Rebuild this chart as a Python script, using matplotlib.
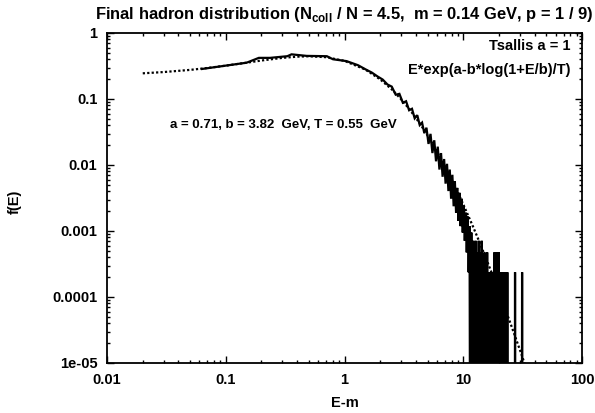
import numpy as np
import matplotlib
matplotlib.use("Agg")
from matplotlib import pyplot as plt
from matplotlib.ticker import FixedLocator, FixedFormatter, LogLocator, NullFormatter

plt.rcParams['font.family'] = ['Liberation Sans', 'DejaVu Sans']
plt.rcParams['font.weight'] = 'bold'
plt.rcParams['mathtext.fontset'] = 'custom'
plt.rcParams['mathtext.rm'] = 'Liberation Sans:bold'
plt.rcParams['mathtext.bf'] = 'Liberation Sans:bold'

# smooth low-energy part of the simulated histogram
low_x = [0.063, 0.15, 0.19, 0.236, 0.33, 0.358, 0.48, 0.71, 0.80, 1.04, 1.3]
low_y = [0.285, 0.355, 0.42, 0.42, 0.445, 0.475, 0.45, 0.445, 0.40, 0.375, 0.325]

# noisy part: counts per bin (bin centres 1.5, 1.7, ... 31.9), one count = 2.37e-4
bin_start = 1.5
bin_width = 0.2
one_count = 2.37e-4
counts = [1190, 1060, 925, 830, 700, 650, 490, 505, 370, 390,
          285, 300, 215, 240, 170, 185, 128, 155, 88, 125,
          64, 100, 48, 80, 36, 64, 28, 52, 22, 44,
          17, 36, 13, 30, 10, 24, 8, 19, 6, 16,
          5, 13, 4, 10, 3, 8, 2, 7, 1, 5,
          0, 4, 0, 3, 1, 0, 3, 0, 2, 0,
          3, 0, 2, 0, 3, 0, 1, 0, 2, 0,
          1, 0, 2, 0, 1, 0, 1, 0, 1, 0,
          1, 0, 1, 0, 2, 0, 1, 0, 2, 0,
          1, 0, 2, 0, 1, 0, 1, 0, 1, 0,
          1, 0, 1, 0, 1, 0, 1, 0, 1, 0,
          1, 0, 0, 0, 0, 0, 0, 0, 0, 0,
          0, 0, 0, 0, 0, 0, 0, 0, 0, 1,
          0, 0, 0, 0, 0, 0, 0, 0, 0, 0,
          0, 0, 0, 0, 0, 0, 0, 0, 0, 1,
          0, 0, 0]

# Tsallis fit curve
fit_x = [0.02, 0.03, 0.05, 0.07, 0.1, 0.15, 0.2, 0.3, 0.4, 0.5, 0.7, 1, 1.5, 2, 2.5,
         3, 3.5, 4, 4.5, 5, 6, 7, 8, 9, 10, 12, 13.5, 15, 17.5, 20, 25, 30, 33]
fit_y = [0.245, 0.256, 0.276, 0.295, 0.320, 0.355, 0.383, 0.420, 0.438, 0.444, 0.430,
         0.378, 0.279, 0.198, 0.140, 0.0990, 0.0709, 0.0514, 0.0378, 0.0281, 0.0161,
         0.00961, 0.00598, 0.00384, 0.00254, 0.00120, 7.24e-4, 4.53e-4, 2.24e-4,
         1.19e-4, 3.97e-5, 1.58e-5, 9.6e-6]

xticks = [0.01, 0.1, 1, 10, 100]
xtick_labels = ['0.01', '0.1', '1', '10', '100']
yticks = [1e-5, 1e-4, 1e-3, 1e-2, 1e-1, 1]
ytick_labels = ['1e-05', '0.0001', '0.001', '0.01', '0.1', '1']

title = r'Final hadron distribution (N$_{\mathrm{coll}}$ / N = 4.5,  m = 0.14 GeV, p = 1 / 9)'

# build the histogram line
counts = np.array(counts, dtype=float)
bin_x = bin_start + bin_width * np.arange(len(counts))
bin_y = np.where(counts > 0, counts * one_count, 1e-9)  # empty bins drop off the log axis
data_x = np.concatenate([low_x, bin_x])
data_y = np.concatenate([low_y, bin_y])

fig = plt.figure(figsize=(5.95, 4.13), dpi=100)
ax = fig.add_axes([107 / 595, 1 - 363 / 413, 475 / 595, 330 / 413])

ax.plot(data_x, data_y, color='black', lw=1.6, solid_joinstyle='miter')
ax.plot(fit_x, fit_y, color='black', lw=1.6, linestyle=(0, (1, 1)))

ax.set_xscale('log')
ax.set_yscale('log')
ax.set_xlim(0.01, 100)
ax.set_ylim(1e-5, 1)

ax.xaxis.set_major_locator(FixedLocator(xticks))
ax.xaxis.set_major_formatter(FixedFormatter(xtick_labels))
ax.yaxis.set_major_locator(FixedLocator(yticks))
ax.yaxis.set_major_formatter(FixedFormatter(ytick_labels))
ax.xaxis.set_minor_locator(LogLocator(base=10, subs=np.arange(2, 10)))
ax.yaxis.set_minor_locator(LogLocator(base=10, subs=np.arange(2, 10)))
ax.xaxis.set_minor_formatter(NullFormatter())
ax.yaxis.set_minor_formatter(NullFormatter())

ax.tick_params(which='both', direction='in', top=True, right=True, width=1.0,
               labelsize=10.5, pad=7)
ax.tick_params(which='major', length=5)
ax.tick_params(which='minor', length=2.5)
for sp in ax.spines.values():
    sp.set_linewidth(1.3)

ax.set_xlabel('E-m', fontsize=10.5, fontweight='bold')
ax.xaxis.set_label_coords(0.5, -40 / 330)
ax.xaxis.label.set_va('center')
ax.set_ylabel('f(E)', fontsize=10.5, fontweight='bold')
ax.yaxis.set_label_coords(-92 / 475, 161 / 330)
ax.yaxis.label.set_va('center')

ax.text(0.975, 0.9615, 'Tsallis a = 1', transform=ax.transAxes, ha='right', va='center',
        fontsize=10.5, fontweight='bold')
ax.text(0.976, 0.888, 'E*exp(a-b*log(1+E/b)/T)', transform=ax.transAxes, ha='right',
        va='center', fontsize=10.5, fontweight='bold')
ax.text(0.133, 0.721, 'a = 0.71, b = 3.82  GeV, T = 0.55  GeV', transform=ax.transAxes,
        ha='left', va='center', fontsize=9.5, fontweight='bold')

fig.text(344.5 / 595, 1 - 14 / 413, title, ha='center', va='center', fontsize=11.9,
         fontweight='bold')

fig.savefig('out.png', dpi=100)
